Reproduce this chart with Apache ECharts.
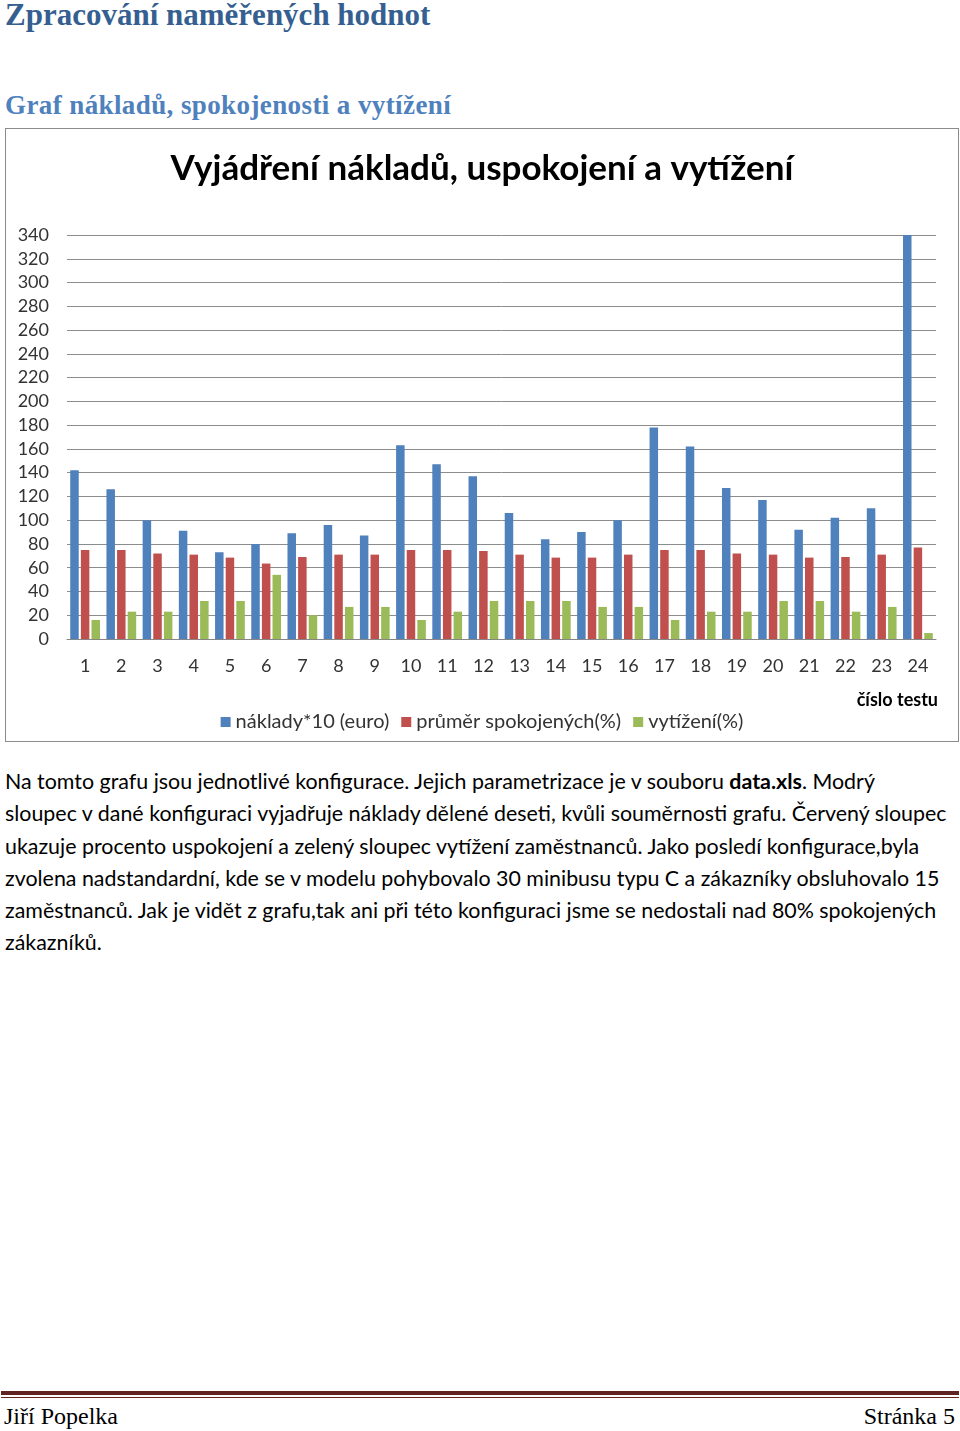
<!DOCTYPE html>
<html>
<head>
<meta charset="utf-8">
<script src="https://cdn.jsdelivr.net/npm/echarts@6/dist/echarts.min.js"></script>
<style>
  body { margin: 0; width: 960px; height: 1431px; position: relative; background: #fff; }
  .h1 { position: absolute; left: 5px; top: -3px; font-family: "Liberation Serif", serif; font-weight: bold; font-size: 31px; color: #365F91; }
  .h2 { position: absolute; left: 5px; top: 90px; font-family: "Liberation Serif", serif; font-weight: bold; font-size: 27px; letter-spacing: 0.4px; color: #4F81BD; }
  .box { position: absolute; left: 5px; top: 128px; width: 952px; height: 612px; border: 1px solid #8c8c8c; }
  #chart { width: 952px; height: 612px; }
  .txt { position: absolute; left: 5px; top: 765px; font-family: Lato, sans-serif; font-size: 21.4px; line-height: 32.3px; color: #000; white-space: nowrap; }
  .rule1 { position: absolute; left: 1px; top: 1391px; width: 958px; height: 4px; background: #622423; }
  .rule2 { position: absolute; left: 1px; top: 1397px; width: 958px; height: 1px; background: #622423; }
  .foot { position: absolute; top: 1403px; font-family: "Liberation Serif", serif; font-size: 24px; color: #000; }
</style>
</head>
<body>
<div class="h1">Zpracování naměřených hodnot</div>
<div class="h2">Graf nákladů, spokojenosti a vytížení</div>
<div class="box"><div id="chart"></div></div>
<div class="txt">Na tomto grafu jsou jednotlivé konfigurace. Jejich parametrizace je v souboru <b>data.xls</b>. Modrý<br>sloupec v dané konfiguraci vyjadřuje náklady dělené deseti, kvůli souměrnosti grafu. Červený sloupec<br>ukazuje procento uspokojení a zelený sloupec vytížení zaměstnanců. Jako posledí konfigurace,byla<br>zvolena nadstandardní, kde se v modelu pohybovalo 30 minibusu typu C a zákazníky obsluhovalo 15<br>zaměstnanců. Jak je vidět z grafu,tak ani při této konfiguraci jsme se nedostali nad 80% spokojených<br>zákazníků.</div>
<div class="rule1"></div>
<div class="rule2"></div>
<div class="foot" style="left:4px">Jiří Popelka</div>
<div class="foot" style="right:5px">Stránka 5</div>
<script>
// data
var tests = ['1','2','3','4','5','6','7','8','9','10','11','12','13','14','15','16','17','18','19','20','21','22','23','24'];
var naklady = [142,126,100,91,73,80,89,96,87,163,147,137,106,84,90,100,178,162,127,117,92,102,110,340];
var spokojenost = [75,75,72,71,68.5,63.5,69,71,71,75,75,74,71,68.5,68.5,71,75,75,72,71,68.5,69,71,77];
var vytizeni = [16,23,23,32,32,54,20,27,27,16,23,32,32,32,27,27,16,23,23,32,32,23,27,5];

var font = 'Lato, sans-serif';
var chart = echarts.init(document.getElementById('chart'));
chart.setOption({
  animation: false,
  textStyle: { fontFamily: font },
  title: [
    { text: 'Vyjádření nákladů, uspokojení a vytížení', left: 'center', top: 17,
      textStyle: { fontFamily: font, fontSize: 35, fontWeight: 'bold', color: '#000' } },
    { text: 'číslo testu', right: 15, top: 557,
      textStyle: { fontFamily: font, fontSize: 18, fontWeight: 'bold', color: '#000' } }
  ],
  legend: {
    left: 'center', top: 578, itemWidth: 10, itemHeight: 10, itemGap: 12,
    icon: 'rect',
    textStyle: { fontFamily: font, fontSize: 20, color: '#333' },
    data: ['náklady*10 (euro)', 'průměr spokojených(%)', 'vytížení(%)']
  },
  grid: { left: 61, right: 22, top: 106, bottom: 102 },
  xAxis: {
    type: 'category', data: tests,
    axisLine: { lineStyle: { color: '#868686' } },
    axisTick: { show: false },
    axisLabel: { fontFamily: font, fontSize: 18, color: '#333', margin: 18 }
  },
  yAxis: {
    type: 'value', min: 0, max: 340, interval: 20,
    axisLine: { show: false }, axisTick: { show: false },
    axisLabel: { fontFamily: font, fontSize: 18, color: '#333', margin: 18 },
    splitLine: { lineStyle: { color: '#8c8c8c', width: 1 } }
  },
  series: [
    { name: 'náklady*10 (euro)', type: 'bar', data: naklady, barWidth: 8.5, barGap: '25%', itemStyle: { color: '#4F81BD' } },
    { name: 'průměr spokojených(%)', type: 'bar', data: spokojenost, barWidth: 8.5, barGap: '25%', itemStyle: { color: '#C0504D' } },
    { name: 'vytížení(%)', type: 'bar', data: vytizeni, barWidth: 8.5, barGap: '25%', itemStyle: { color: '#9BBB59' } }
  ]
});
</script>
</body>
</html>
